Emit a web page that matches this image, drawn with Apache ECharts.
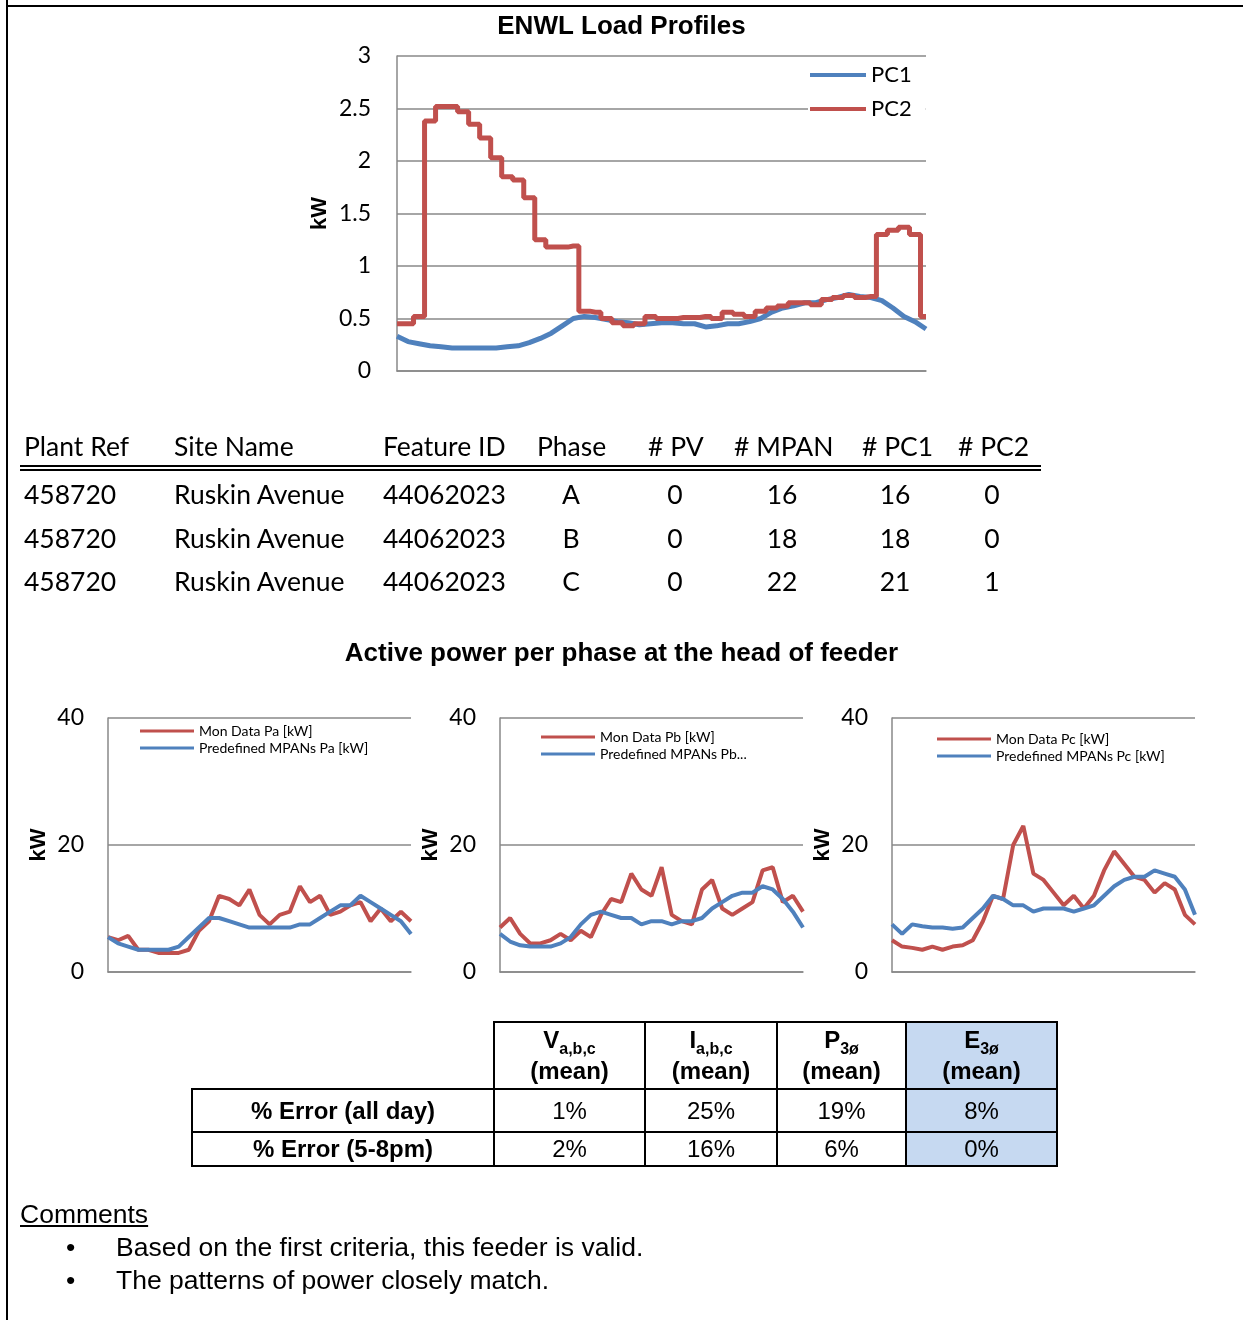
<!DOCTYPE html>
<html>
<head>
<meta charset="utf-8">
<script src="https://cdn.jsdelivr.net/npm/echarts@6/dist/echarts.min.js"></script>
<style>
  body { margin:0; background:#fff; }
  #page { position:relative; width:1243px; height:1320px; overflow:hidden; }
  #main { position:absolute; left:0; top:0; width:1243px; height:1320px; }
  .t { position:absolute; font-family: Lato, "Noto Sans", sans-serif; font-size:26.5px; color:#000; white-space:nowrap; line-height:1; }
  .a { position:absolute; font-family: "Liberation Sans", Arial, sans-serif; color:#000; white-space:nowrap; }
  table.err { position:absolute; left:191px; top:1021px; border-collapse:collapse; font-family:"Liberation Sans", Arial, sans-serif; font-size:24px; }
  table.err td { border:2px solid #000; text-align:center; padding:0; }
</style>
</head>
<body>
<div id="page">
<div id="main"></div>
<div style="position:absolute;left:6px;top:0;width:2px;height:1320px;background:#000"></div>
<div style="position:absolute;left:6px;top:5px;width:1237px;height:2px;background:#000"></div>
<div id="tbl"></div>
<div style="position:absolute;left:20px;top:465px;width:1021px;height:1.5px;background:#000"></div>
<div style="position:absolute;left:20px;top:469px;width:1021px;height:1.5px;background:#000"></div>
<table class="err">
  <tr style="height:67px"><td style="border:none;border-right:2px solid #000;width:301px"></td>
    <td style="width:149px"><b>V<sub style="font-size:16px">a,b,c</sub><br>(mean)</b></td>
    <td style="width:130px"><b>I<sub style="font-size:16px">a,b,c</sub><br>(mean)</b></td>
    <td style="width:127px"><b>P<sub style="font-size:16px">3ø</sub><br>(mean)</b></td>
    <td style="width:149px;background:#c6d9f1"><b>E<sub style="font-size:16px">3ø</sub><br>(mean)</b></td></tr>
  <tr style="height:43px"><td><b>% Error (all day)</b></td><td>1%</td><td>25%</td><td>19%</td><td style="background:#c6d9f1">8%</td></tr>
  <tr style="height:34px"><td><b>% Error (5-8pm)</b></td><td>2%</td><td>16%</td><td>6%</td><td style="background:#c6d9f1">0%</td></tr>
</table>
<div class="a" style="left:20px;top:1199px;font-size:26.5px;text-decoration:underline">Comments</div>
<div class="a" style="left:66px;top:1232px;font-size:26.5px">•</div>
<div class="a" style="left:116px;top:1232px;font-size:26.5px">Based on the first criteria, this feeder is valid.</div>
<div class="a" style="left:66px;top:1265px;font-size:26.5px">•</div>
<div class="a" style="left:116px;top:1265px;font-size:26.5px">The patterns of power closely match.</div>
</div>
<script>
// top chart: load profiles
const pc1 = [0.33,0.28,0.26,0.24,0.23,0.22,0.22,0.22,0.22,0.22,0.23,0.24,0.27,0.31,0.36,0.43,0.5,0.52,0.51,0.49,0.47,0.46,0.44,0.45,0.46,0.46,0.45,0.45,0.42,0.43,0.45,0.45,0.47,0.5,0.56,0.6,0.62,0.65,0.65,0.68,0.7,0.73,0.71,0.7,0.67,0.6,0.52,0.47,0.4];
const pc2 = [0.45,0.45,0.52,2.38,2.52,2.52,2.47,2.35,2.22,2.03,1.85,1.82,1.65,1.25,1.18,1.18,1.19,0.57,0.56,0.5,0.46,0.43,0.45,0.52,0.5,0.5,0.51,0.51,0.52,0.5,0.56,0.54,0.52,0.57,0.6,0.62,0.65,0.65,0.63,0.68,0.7,0.72,0.7,0.71,1.3,1.34,1.37,1.3,0.52];
// phase charts
const monA = [5.5,5,5.7,3.5,3.5,3,3,3,3.5,6.5,8,12,11.5,10.5,13,9,7.5,9,9.5,13.5,11,12,9,9.5,10.5,11,8,10,8,9.5,8];
const preA = [5.5,4.5,4,3.5,3.5,3.5,3.5,4,5.5,7,8.5,8.5,8,7.5,7,7,7,7,7,7.5,7.5,8.5,9.5,10.5,10.5,12,11,10,9,8,6];
const monB = [7,8.5,6,4.5,4.5,5,6,5,6.5,5.5,9,11.5,11,15.5,13,12,16.5,9,8,7.5,13,14.5,10,9,10,11,16,16.5,11,12,9.5];
const preB = [6,4.8,4.2,4,4,4,4.5,5.5,7.5,9,9.5,9,8.5,8.5,7.5,8,8,7.5,8,8,8.5,10,11,12,12.5,12.5,13.5,13,11.5,9.5,7];
const monC = [5,4,3.8,3.5,4,3.5,4,4.2,5,8,12,11.5,20,23,15.5,14.5,12.5,10.5,12,10,12,16,19,17,15,14.5,12.5,14,13,9,7.5];
const preC = [7.5,6,7.5,7.2,7,7,6.8,7,8.5,10,12,11.5,10.5,10.5,9.5,10,10,10,9.5,10,10.5,12,13.5,14.5,15,15,16,15.5,15,13,9];

const headers = ['Plant Ref','Site Name','Feature ID','Phase','# PV','# MPAN','# PC1','# PC2'];
const headerX = [24,174,383,537,648,734,862,958];
const rows = [
  ['458720','Ruskin Avenue','44062023','A','0','16','16','0'],
  ['458720','Ruskin Avenue','44062023','B','0','18','18','0'],
  ['458720','Ruskin Avenue','44062023','C','0','22','21','1']
];
const cellX = [24,174,383,571,675,782,895,992]; // centre for cols 3+
const rowY = [481,525,568];

let html = '';
headers.forEach((h,i) => { html += `<div class="t" style="left:${headerX[i]}px;top:433px">${h}</div>`; });
rows.forEach((r,ri) => r.forEach((v,ci) => {
  const tr = ci >= 3 ? 'transform:translateX(-50%);' : '';
  html += `<div class="t" style="left:${cellX[ci]}px;top:${rowY[ri]}px;${tr}">${v}</div>`;
}));
document.getElementById('tbl').innerHTML = html;

const RED = '#c0504d', BLUE = '#4f81bd';
const idx = n => Array.from({length:n},(_,i)=>i);
const chart = echarts.init(document.getElementById('main'));
const smallLeft = [108,500,892];
const grids = [{left:397, top:56, width:529, height:315}];
smallLeft.forEach(l => grids.push({left:l, top:718, width:303, height:254}));
const xAxes = grids.map((g,i) => ({
  gridIndex:i, type:'category', boundaryGap:false, data: idx(i===0?pc1.length:31),
  axisLabel:{show:false}, axisTick:{show:false},
  axisLine:{lineStyle:{color:'#888', width:1.5}}
}));
const yAxes = grids.map((g,i) => ({
  gridIndex:i, type:'value', min:0, max: i===0?3:40, interval: i===0?0.5:20,
  name:'kW', nameLocation:'middle', nameGap: i===0?66:58, nameRotate:90,
  nameTextStyle:{fontFamily:'Liberation Sans', fontWeight:'bold', fontSize:22, color:'#000'},
  axisLine:{show:true, lineStyle:{color:'#888', width:1.5}}, axisTick:{show:false},
  axisLabel:{fontFamily:'Lato', fontSize:23, color:'#000', margin: i===0?26:24},
  splitLine:{lineStyle:{color:'#888', width:1.5}}
}));
const ln = (name, data, color, gi, w, step) => ({
  name, type:'line', data, xAxisIndex:gi, yAxisIndex:gi, symbol:'none',
  lineStyle:{color, width:w}, itemStyle:{color}, step: step || false
});
const legendNames = [['Mon Data Pa [kW]','Predefined MPANs Pa [kW]'],['Mon Data Pb [kW]','Predefined MPANs Pb...'],['Mon Data Pc [kW]','Predefined MPANs Pc [kW]']];
const legendPos = [[140,724],[541,730],[937,732]];
const legends = [{
  data:['PC1','PC2'], orient:'vertical', left:808, top:62, itemWidth:56, itemHeight:4, itemGap:12,
  backgroundColor:'#fff', padding:[2,14,2,2], icon:'rect',
  textStyle:{fontFamily:'Lato', fontSize:22, color:'#000'}
}];
legendNames.forEach((ln2,i) => legends.push({
  data: ln2, orient:'vertical', left:legendPos[i][0], top:legendPos[i][1], itemWidth:54, itemHeight:3, itemGap:3,
  icon:'rect', padding:0, textStyle:{fontFamily:'Lato', fontSize:14, color:'#000'}
}));
const seriesList = [ln('PC1', pc1, BLUE, 0, 5), ln('PC2', pc2, RED, 0, 5, 'middle')];
[[monA,preA],[monB,preB],[monC,preC]].forEach((p,i) => {
  seriesList.push(ln(legendNames[i][0], p[0], RED, i+1, 4));
  seriesList.push(ln(legendNames[i][1], p[1], BLUE, i+1, 4));
});
chart.setOption({
  animation:false,
  title:[
    {text:'ENWL Load Profiles', left:'center', top:9, textStyle:{fontFamily:'Liberation Sans', fontSize:26, fontWeight:'bold', color:'#000'}},
    {text:'Active power per phase at the head of feeder', left:'center', top:636, textStyle:{fontFamily:'Liberation Sans', fontSize:26, fontWeight:'bold', color:'#000'}}
  ],
  legend: legends,
  grid: grids, xAxis: xAxes, yAxis: yAxes, series: seriesList
});
</script>
</body>
</html>
